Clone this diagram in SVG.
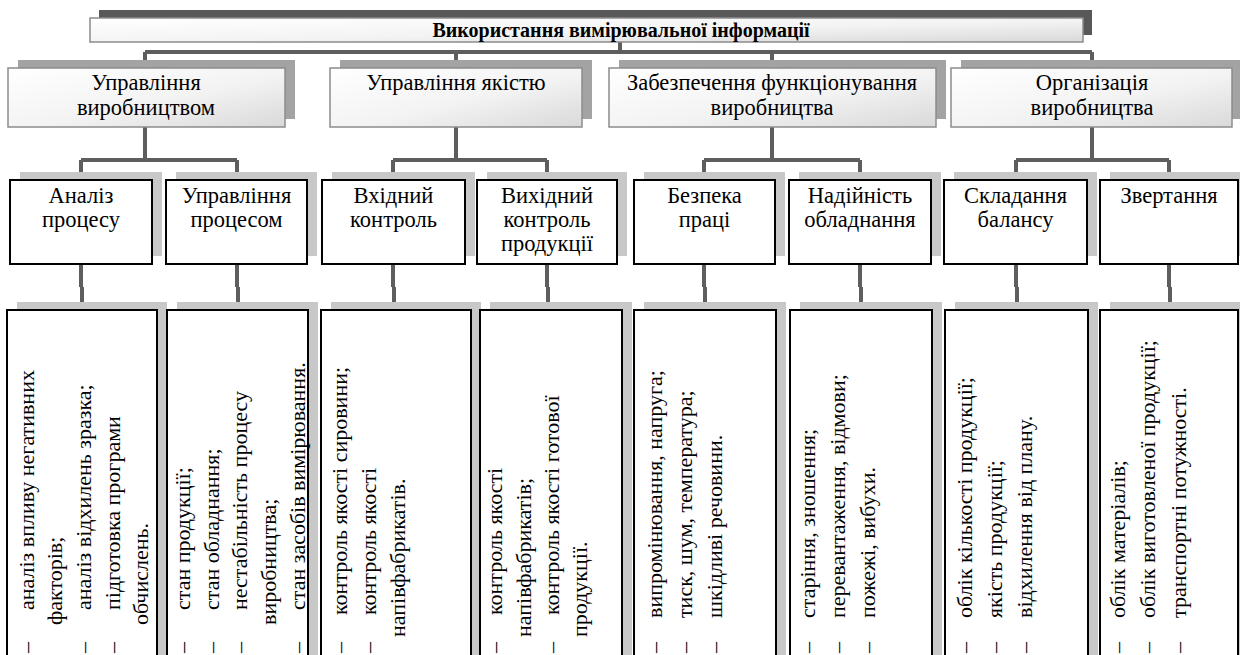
<svg xmlns="http://www.w3.org/2000/svg" width="1240" height="655" viewBox="0 0 1240 655">
<defs>
<linearGradient id="g2" x1="0" y1="0" x2="1" y2="1">
<stop offset="0" stop-color="#ffffff"/>
<stop offset="0.55" stop-color="#f3f3f3"/>
<stop offset="1" stop-color="#d9d9d9"/>
</linearGradient>
</defs>
<style>
text{font-family:"Liberation Serif","Times New Roman",serif;fill:#000}
.t{font-size:20px;font-weight:bold;text-anchor:middle}
.l2{font-size:22.5px;text-anchor:middle}
.l3{font-size:22.5px;text-anchor:middle}
.l4{font-size:22px}
.sh1{fill:#585858}
.sh2{fill:#a3a3a3}
.sh3{fill:#c8c8c8}
.b1{fill:url(#g2);stroke:#8c8c8c;stroke-width:1.5}
.b3{fill:#fff;stroke:#000;stroke-width:2}
.c{fill:none;stroke:#5e5e5e;stroke-width:4}
</style>
<rect width="1240" height="655" fill="#fff"/>

<g id="connectors">
<path class="c" d="M620 42V52M145 52H1092M145 52V64M456 52V64M772 52V64M1092 52V64"/>
<path class="c" d="M145 127V160M81 160H237M81 160V182M237 160V182"/>
<path class="c" d="M456 127V160M393 160H547M393 160V182M547 160V182"/>
<path class="c" d="M772 127V160M704 160H860M704 160V182M860 160V182"/>
<path class="c" d="M1092 127V160M1016 160H1169M1016 160V182M1169 160V182"/>
<path class="c" d="M81 264V287M82 287V306M237 264V287M238 287V306M393 264V287M394 287V306M547 264V287M548 287V306M704 264V287M705 287V306M860 264V287M861 287V306M1016 264V287M1017 287V306M1169 264V287M1170 287V306"/>
</g>

<g id="title">
<rect class="sh1" x="99" y="10" width="993" height="25"/>
<rect class="b1" x="90" y="18" width="993" height="24"/>
<text class="t" x="621" y="37">Використання вимірювальної інформації</text>
</g>

<g id="n-upr-vyr">
<rect class="sh2" x="18" y="60" width="277" height="59"/>
<rect class="b1" x="8" y="68" width="277" height="59"/>
<text class="l2" x="146" y="90">Управління</text>
<text class="l2" x="146" y="115">виробництвом</text>
</g>
<g id="n-upr-yak">
<rect class="sh2" x="340" y="60" width="252" height="59"/>
<rect class="b1" x="330" y="68" width="252" height="59"/>
<text class="l2" x="456" y="90">Управління якістю</text>
</g>
<g id="n-zabezp">
<rect class="sh2" x="619" y="60" width="327" height="59"/>
<rect class="b1" x="609" y="68" width="327" height="59"/>
<text class="l2" x="772" y="90">Забезпечення функціонування</text>
<text class="l2" x="772" y="115">виробництва</text>
</g>
<g id="n-org">
<rect class="sh2" x="961" y="60" width="279" height="59"/>
<rect class="b1" x="951" y="68" width="281" height="59"/>
<text class="l2" x="1092" y="90">Організація</text>
<text class="l2" x="1092" y="115">виробництва</text>
</g>

<g id="n-analiz">
<rect class="sh3" x="20" y="172" width="142" height="84"/>
<rect class="b3" x="10" y="180" width="142" height="84"/>
<text class="l3" x="81" y="203">Аналіз</text>
<text class="l3" x="81" y="227">процесу</text>
</g>
<g id="n-upr-proc">
<rect class="sh3" x="176" y="172" width="141" height="84"/>
<rect class="b3" x="166" y="180" width="141" height="84"/>
<text class="l3" x="236.5" y="203">Управління</text>
<text class="l3" x="236.5" y="227">процесом</text>
</g>
<g id="n-vkhid">
<rect class="sh3" x="332" y="172" width="143" height="84"/>
<rect class="b3" x="322" y="180" width="143" height="84"/>
<text class="l3" x="393.5" y="203">Вхідний</text>
<text class="l3" x="393.5" y="227">контроль</text>
</g>
<g id="n-vykhid">
<rect class="sh3" x="487" y="172" width="140" height="84"/>
<rect class="b3" x="477" y="180" width="140" height="84"/>
<text class="l3" x="547" y="203">Вихідний</text>
<text class="l3" x="547" y="227">контроль</text>
<text class="l3" x="547" y="251">продукції</text>
</g>
<g id="n-bezpeka">
<rect class="sh3" x="644" y="172" width="141" height="84"/>
<rect class="b3" x="634" y="180" width="141" height="84"/>
<text class="l3" x="704.5" y="203">Безпека</text>
<text class="l3" x="704.5" y="227">праці</text>
</g>
<g id="n-nadiin">
<rect class="sh3" x="799" y="172" width="142" height="84"/>
<rect class="b3" x="789" y="180" width="142" height="84"/>
<text class="l3" x="860" y="203">Надійність</text>
<text class="l3" x="860" y="227">обладнання</text>
</g>
<g id="n-balans">
<rect class="sh3" x="954" y="172" width="143" height="84"/>
<rect class="b3" x="944" y="180" width="143" height="84"/>
<text class="l3" x="1015.5" y="203">Складання</text>
<text class="l3" x="1015.5" y="227">балансу</text>
</g>
<g id="n-zvert">
<rect class="sh3" x="1110" y="172" width="130" height="84"/>
<rect class="b3" x="1100" y="180" width="138" height="84"/>
<text class="l3" x="1169" y="203">Звертання</text>
</g>

<g id="n-list1">
<rect class="sh3" x="17" y="302" width="150" height="360"/>
<rect class="b3" x="7" y="310" width="150" height="360"/>
<text class="l4" transform="translate(34,653) rotate(-90)">–</text>
<text class="l4" transform="translate(34,610) rotate(-90)">аналіз впливу негативних</text>
<text class="l4" transform="translate(62,625) rotate(-90)">факторів;</text>
<text class="l4" transform="translate(91,653) rotate(-90)">–</text>
<text class="l4" transform="translate(91,610) rotate(-90)">аналіз відхилень зразка;</text>
<text class="l4" transform="translate(120,653) rotate(-90)">–</text>
<text class="l4" transform="translate(120,610) rotate(-90)">підготовка програми</text>
<text class="l4" transform="translate(148,625) rotate(-90)">обчислень.</text>
</g>
<g id="n-list2">
<rect class="sh3" x="177" y="302" width="141" height="360"/>
<rect class="b3" x="167" y="310" width="141" height="360"/>
<text class="l4" transform="translate(190,653) rotate(-90)">–</text>
<text class="l4" transform="translate(190,610) rotate(-90)">стан продукції;</text>
<text class="l4" transform="translate(219,653) rotate(-90)">–</text>
<text class="l4" transform="translate(219,610) rotate(-90)">стан обладнання;</text>
<text class="l4" transform="translate(247,653) rotate(-90)">–</text>
<text class="l4" transform="translate(247,610) rotate(-90)">нестабільність процесу</text>
<text class="l4" transform="translate(276,625) rotate(-90)">виробництва;</text>
<text class="l4" transform="translate(305,653) rotate(-90)">–</text>
<text class="l4" transform="translate(305,610) rotate(-90)">стан засобів вимірювання.</text>
</g>
<g id="n-list3">
<rect class="sh3" x="331" y="302" width="150" height="360"/>
<rect class="b3" x="321" y="310" width="150" height="360"/>
<text class="l4" transform="translate(347,653) rotate(-90)">–</text>
<text class="l4" transform="translate(347,615) rotate(-90)">контроль якості сировини;</text>
<text class="l4" transform="translate(376,653) rotate(-90)">–</text>
<text class="l4" transform="translate(376,615) rotate(-90)">контроль якості</text>
<text class="l4" transform="translate(405,637) rotate(-90)">напівфабрикатів.</text>
</g>
<g id="n-list4">
<rect class="sh3" x="490" y="302" width="142" height="360"/>
<rect class="b3" x="480" y="310" width="142" height="360"/>
<text class="l4" transform="translate(502,653) rotate(-90)">–</text>
<text class="l4" transform="translate(502,615) rotate(-90)">контроль якості</text>
<text class="l4" transform="translate(531,637) rotate(-90)">напівфабрикатів;</text>
<text class="l4" transform="translate(559,653) rotate(-90)">–</text>
<text class="l4" transform="translate(559,615) rotate(-90)">контроль якості готової</text>
<text class="l4" transform="translate(587,637) rotate(-90)">продукції.</text>
</g>
<g id="n-list5">
<rect class="sh3" x="644" y="302" width="142" height="360"/>
<rect class="b3" x="634" y="310" width="142" height="360"/>
<text class="l4" transform="translate(662,653) rotate(-90)">–</text>
<text class="l4" transform="translate(662,618) rotate(-90)">випромінювання, напруга;</text>
<text class="l4" transform="translate(692,653) rotate(-90)">–</text>
<text class="l4" transform="translate(692,618) rotate(-90)">тиск, шум, температура;</text>
<text class="l4" transform="translate(722,653) rotate(-90)">–</text>
<text class="l4" transform="translate(722,618) rotate(-90)">шкідливі речовини.</text>
</g>
<g id="n-list6">
<rect class="sh3" x="800" y="302" width="142" height="360"/>
<rect class="b3" x="790" y="310" width="142" height="360"/>
<text class="l4" transform="translate(815,653) rotate(-90)">–</text>
<text class="l4" transform="translate(815,618) rotate(-90)">старіння, зношення;</text>
<text class="l4" transform="translate(845,653) rotate(-90)">–</text>
<text class="l4" transform="translate(845,618) rotate(-90)">перевантаження, відмови;</text>
<text class="l4" transform="translate(875,653) rotate(-90)">–</text>
<text class="l4" transform="translate(875,618) rotate(-90)">пожежі, вибухи.</text>
</g>
<g id="n-list7">
<rect class="sh3" x="955" y="302" width="143" height="360"/>
<rect class="b3" x="945" y="310" width="143" height="360"/>
<text class="l4" transform="translate(972,653) rotate(-90)">–</text>
<text class="l4" transform="translate(972,618) rotate(-90)">облік кількості продукції;</text>
<text class="l4" transform="translate(1002,653) rotate(-90)">–</text>
<text class="l4" transform="translate(1002,618) rotate(-90)">якість продукції;</text>
<text class="l4" transform="translate(1032,653) rotate(-90)">–</text>
<text class="l4" transform="translate(1032,618) rotate(-90)">відхилення від плану.</text>
</g>
<g id="n-list8">
<rect class="sh3" x="1110" y="302" width="130" height="360"/>
<rect class="b3" x="1100" y="310" width="138" height="360"/>
<text class="l4" transform="translate(1125,653) rotate(-90)">–</text>
<text class="l4" transform="translate(1125,618) rotate(-90)">облік матеріалів;</text>
<text class="l4" transform="translate(1155,653) rotate(-90)">–</text>
<text class="l4" transform="translate(1155,618) rotate(-90)">облік виготовленої продукції;</text>
<text class="l4" transform="translate(1186,653) rotate(-90)">–</text>
<text class="l4" transform="translate(1186,618) rotate(-90)">транспортні потужності.</text>
</g>
</svg>
